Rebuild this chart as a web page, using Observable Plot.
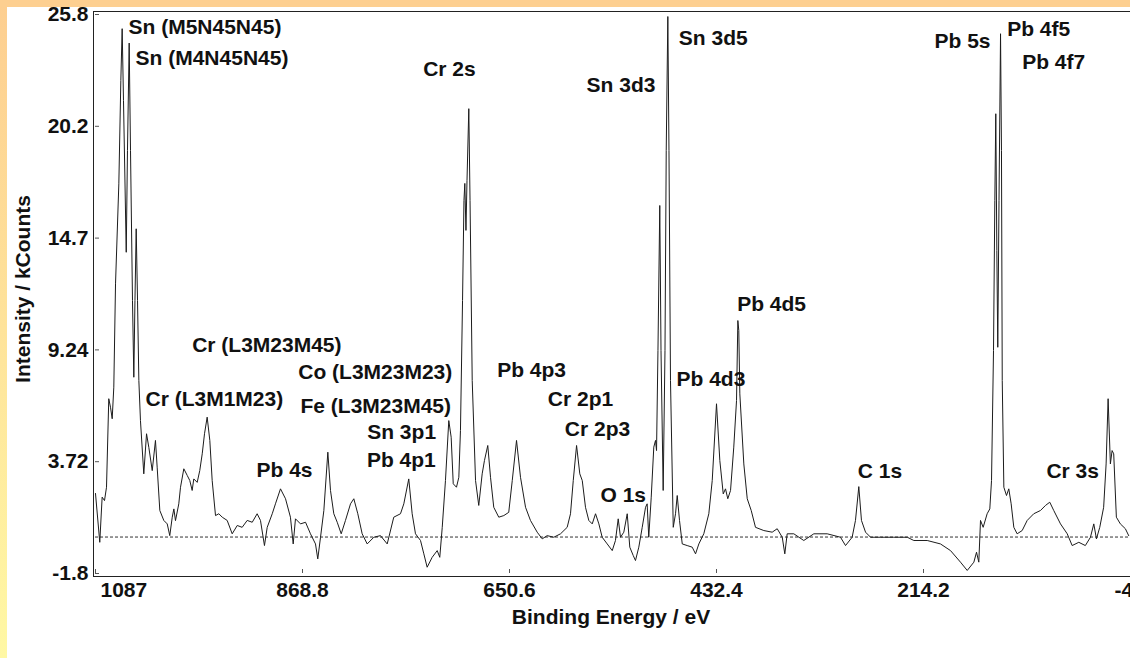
<!DOCTYPE html>
<html><head><meta charset="utf-8">
<script src="https://cdn.jsdelivr.net/npm/d3@7"></script>
<script src="https://cdn.jsdelivr.net/npm/@observablehq/plot@0.6"></script>
<style>
html,body{margin:0;padding:0;width:1130px;height:658px;overflow:hidden;}
body{background:linear-gradient(to bottom,#FDCE90,#FFF8A4);position:relative;}
#top{position:absolute;left:0;top:0;width:1130px;height:7px;background:#FDCF90;}
#panel{position:absolute;left:7px;top:7px;width:1123px;height:651px;background:#fff;overflow:hidden;}
#chart{position:absolute;left:-7px;top:-7px;width:1130px;height:658px;}
</style></head><body>
<div id="top"></div><div id="panel"><div id="chart"></div></div>
<script>
const energy = [
1087, 1082.5, 1080.0, 1077.5, 1075.4, 1073.0, 1071.2, 1069.4, 1067.7, 1065.9,
1062.4, 1060.3, 1058.9, 1057.5, 1054.6, 1053.3, 1051.5, 1050.1, 1048.0, 1046.6,
1045.4, 1044.1, 1042.7, 1041.3, 1039.6, 1036.1, 1033.2, 1030.8, 1027.2, 1023.8,
1022.0, 1019.2, 1015.0, 1011.4, 1008.7, 1006.1, 1004.4, 1002.7, 999.2, 997.4,
993.9, 990.3, 987.6, 985.1, 983.4, 979.8, 977.1, 974.5, 972.1, 969.3,
966.5, 964.0, 960.5, 957.0, 953.4, 948.2, 942.9, 937.6, 932.4, 927.1,
921.8, 916.6, 913.1, 908.9, 906.0, 900.7, 897.3, 892.0, 886.7, 881.5,
878.6, 876.2, 870.9, 865.6, 860.4, 855.1, 852.7, 849.8, 846.3, 842.1,
839.3, 835.8, 832.2, 828.0, 823.5, 818.2, 814.7, 810.5, 805.9, 800.6,
793.6, 786.6, 779.5, 772.6, 765.5, 762.0, 756.8, 753.2, 749.7, 744.4,
740.9, 737.4, 732.1, 726.8, 724.1, 721.5, 718.1, 714.6, 712.1, 709.9,
706.5, 704.0, 702.3, 700.1, 698.6, 697.7, 696.5, 695.4, 693.5, 692.2,
689.9, 686.4, 683.0, 679.4, 677.0, 673.5, 670.6, 667.2, 661.9, 656.6,
651.4, 647.7, 643.2, 639.0, 633.7, 628.5, 621.4, 616.1, 610.9, 603.9,
596.8, 589.8, 586.3, 583.4, 579.9, 576.5, 573.9, 570.5, 567.0, 563.4,
559.9, 556.4, 552.9, 547.6, 542.3, 538.9, 536.0, 533.6, 530.1, 526.5,
523.8, 520.2, 517.8, 514.3, 510.7, 507.2, 505.5, 503.8, 501.2, 498.5,
496.7, 495.6, 494.1, 492.2, 490.9, 488.6, 486.7, 485.4, 483.7, 482.5,
480.9, 478.0, 475.6, 473.8, 471.4, 468.5, 463.3, 458.0, 454.5, 451.0,
445.8, 440.5, 436.9, 432.4, 428.9, 425.3, 422.9, 420.5, 417.6, 414.2,
411.3, 409.9, 408.9, 407.8, 403.6, 400.0, 395.8, 391.3, 382.5, 373.7,
368.4, 363.1, 360.4, 357.9, 350.9, 340.4, 329.8, 315.7, 301.7, 296.4,
289.4, 285.9, 282.4, 279.6, 275.3, 270.0, 259.5, 245.5, 231.3, 224.4,
210.3, 196.3, 185.7, 175.2, 168.1, 161.1, 158.3, 155.9, 154.1, 151.3,
147.1, 144.3, 142.5, 140.4, 139.0, 138.0, 136.9, 135.9, 134.6, 133.0,
132.0, 131.2, 129.5, 126.7, 124.3, 121.8, 119.0, 115.5, 110.2, 104.9,
98.0, 90.9, 85.6, 81.1, 76.9, 69.8, 62.7, 57.5, 50.5, 43.6,
38.2, 34.7, 31.9, 28.4, 24.3, 21.7, 19.6, 17.2, 15.4, 13.7,
10.9, 6.7, 1.4, -2.1
];
const intensity = [
2.15, -0.26, 1.97, 1.80, 2.46, 6.83, 6.41, 5.84, 7.40, 12.50,
17.44, 22.54, 25.10, 21.56, 14.06, 19.09, 24.39, 19.09, 11.68, 7.89,
11.68, 15.22, 11.68, 7.73, 5.75, 3.12, 5.10, 4.43, 3.28, 4.77,
3.45, 1.31, 0.82, 0.65, 0.07, 0.98, 1.39, 0.81, 1.64, 2.46,
3.37, 3.04, 2.79, 2.30, 2.87, 2.70, 3.28, 4.11, 5.10, 5.92,
4.77, 2.79, 1.06, 1.15, 0.98, 0.82, 0.16, 0.57, 0.48, 0.82,
0.73, 1.15, 0.82, -0.42, 0.48, 1.15, 1.64, 2.38, 1.89, 0.98,
-0.34, 0.90, 0.65, 0.73, 0.16, -0.34, -1.08, -0.01, 1.31, 4.19,
2.30, 1.15, 0.73, 0.16, 0.82, 1.64, 1.89, 1.15, 0.16, -0.34,
-0.01, 0.07, -0.34, 0.98, 1.15, 1.64, 2.87, 1.15, 0.16, -0.17,
-0.83, -1.49, -1.00, -0.67, -1.00, 0.48, 2.79, 5.75, 4.93, 2.63,
2.46, 2.95, 5.26, 11.68, 16.62, 17.46, 15.14, 17.61, 21.15, 16.62,
7.73, 2.79, 1.56, 3.12, 3.78, 4.52, 2.95, 1.47, 0.98, 1.06,
1.22, 2.79, 4.77, 2.95, 1.47, 0.82, 0.24, -0.09, 0.07, -0.01,
0.16, 0.48, 1.15, 2.79, 4.52, 3.12, 2.79, 1.47, 0.82, 0.65,
1.15, 0.65, -0.01, -0.34, -0.67, -0.17, 0.90, -0.01, 0.24, 1.15,
-0.50, -0.91, -1.16, -0.50, 0.48, 1.47, 1.64, -0.01, 1.97, 4.44,
4.77, 4.27, 9.21, 16.37, 9.21, 2.30, 9.21, 19.09, 25.70, 19.09,
7.73, 0.48, 1.15, 2.05, 0.82, -0.34, -0.42, -0.50, -0.83, -0.34,
0.16, 1.15, 2.79, 6.58, 3.78, 2.13, 2.38, 1.89, 2.30, 4.44,
6.74, 10.69, 10.20, 7.07, 3.61, 1.89, 1.31, 0.48, 0.32, 0.24,
0.41, -0.01, -0.83, 0.16, 0.16, -0.17, 0.16, 0.16, -0.01, -0.42,
-0.01, 0.82, 2.49, 0.82, 0.24, -0.01, -0.01, -0.01, -0.01, -0.17,
-0.17, -0.34, -0.67, -1.24, -1.65, -1.24, -0.75, -1.24, 0.82, 0.48,
1.15, 1.39, 2.79, 9.21, 16.62, 20.90, 14.15, 9.37, 16.62, 24.85,
19.09, 7.73, 2.46, 2.05, 2.38, 1.64, 0.48, 0.16, 0.32, 0.82,
1.15, 1.31, 1.56, 1.72, 1.31, 0.65, 0.16, -0.42, -0.26, -0.42,
-0.01, 0.65, -0.09, 0.48, 1.47, 3.61, 6.83, 3.61, 4.27, 4.11,
0.98, 0.65, 0.41, 0.07
];

const xTicks = [1087, 868.8, 650.6, 432.4, 214.2, -4];
const xTickLabels = ["1087", "868.8", "650.6", "432.4", "214.2", "-4"];
const yTicks = [-1.8, 3.72, 9.24, 14.76, 20.28, 25.8];
const yTickLabels = ["-1.8", "3.72", "9.24", "14.7", "20.2", "25.8"];

const peakLabels = ["Sn (M5N45N45)", "Sn (M4N45N45)", "Cr (L3M23M45)", "Cr (L3M1M23)", "Co (L3M23M23)",
  "Fe (L3M23M45)", "Pb 4s", "Sn 3p1", "Pb 4p1", "Cr 2s", "Pb 4p3", "Cr 2p1", "Cr 2p3", "O 1s",
  "Sn 3d3", "Sn 3d5", "Pb 4d3", "Pb 4d5", "C 1s", "Pb 5s", "Pb 4f5", "Pb 4f7", "Cr 3s"];
const labelEnergy = [1052.2, 1044.8, 985.1, 1034.3, 873.3, 870.9, 917.3, 800.6, 800.9, 741.6,
  663.6, 610.2, 592.3, 554.7, 569.4, 472.1, 474.6, 410.6, 283.5, 202.6, 126.0, 110.2, 84.6];
const labelIntensity = [25.16, 23.63, 9.49, 6.82, 8.14, 6.44, 3.32, 5.18, 3.78, 23.09,
  8.22, 6.79, 5.31, 2.08, 22.30, 24.62, 7.81, 11.47, 3.25, 24.47, 25.06, 23.43, 3.25];

const xTitle = "Binding Energy / eV";
const yTitle = "Intensity / kCounts";

const spectrum = energy.map((e, i) => ({e, v: intensity[i]}));
const labels = peakLabels.map((t, i) => ({t, e: labelEnergy[i], v: labelIntensity[i]}));
const xFmt = d => xTickLabels[xTicks.indexOf(d)];
const yFmt = d => yTickLabels[yTicks.indexOf(d)];

const chart = Plot.plot({
  width: 1130, height: 658,
  marginLeft: 95, marginRight: 0, marginTop: 14, marginBottom: 85,
  x: {domain: [1087, -4]},
  y: {domain: [-1.8, 25.8]},
  style: {fontFamily: '"Liberation Sans", Arial, sans-serif', fontSize: "21px", fontWeight: "bold",
          background: "transparent", maxWidth: "none", color: "#111"},
  marks: [
    Plot.frame({stroke: "#222", insetTop: -3, insetBottom: -3, insetLeft: -2, insetRight: -3}),
    Plot.ruleY([0], {stroke: "#333", strokeDasharray: "3,2", strokeWidth: 1}),
    Plot.line(spectrum, {x: "e", y: "v", stroke: "#1c1c1c", strokeWidth: 1}),
    Plot.axisY({ticks: yTicks, tickFormat: yFmt, tickSize: 0, tickPadding: 7, label: null}),
    Plot.axisY({ticks: yTicks, tickFormat: () => "", tickSize: -4, label: null, stroke: "#555"}),
    Plot.axisX({ticks: xTicks.slice(1, 5), tickFormat: xFmt, tickSize: 0, tickPadding: 9, label: null}),
    Plot.axisX({ticks: xTicks.slice(0, 1), tickFormat: xFmt, tickSize: 0, tickPadding: 9, textAnchor: "start", dx: 5, label: null}),
    Plot.axisX({ticks: xTicks.slice(5), tickFormat: xFmt, tickSize: 0, tickPadding: 9, textAnchor: "start", dx: -16, label: null}),
    Plot.axisX({ticks: xTicks, tickFormat: () => "", tickSize: -4, label: null, stroke: "#555"}),
    Plot.text(labels, {x: "e", y: "v", text: "t", textAnchor: "start", fontSize: 21, fontWeight: "bold", fill: "#111"}),
    Plot.text([yTitle], {frameAnchor: "left", text: d => d, rotate: -90, textAnchor: "middle", lineAnchor: "middle", dx: -72, dy: -5, fontSize: 21, fontWeight: "bold", fill: "#111"}),
    Plot.text([xTitle], {frameAnchor: "bottom", text: d => d, textAnchor: "middle", lineAnchor: "middle", dx: -2, dy: 44, fontSize: 21, fontWeight: "bold", fill: "#111"})
  ]
});
document.getElementById("chart").appendChild(chart);
</script>
</body></html>
